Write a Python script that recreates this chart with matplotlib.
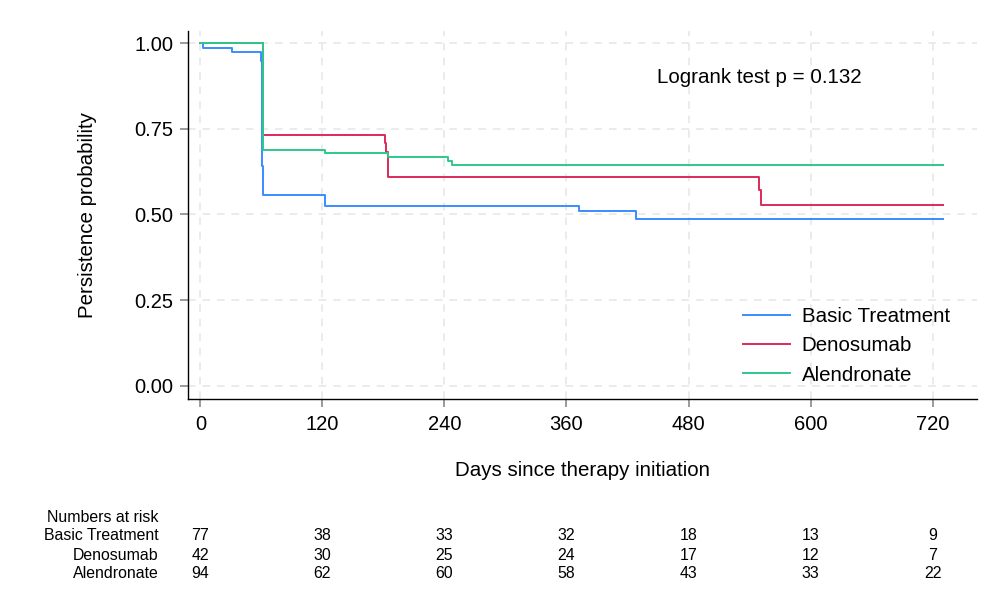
"""
Kaplan-Meier style persistence curves with a numbers-at-risk table.
"""

import matplotlib
matplotlib.use("Agg")
import matplotlib.pyplot as plt
import matplotlib.transforms as mtransforms

plt.rcParams["font.family"] = ["Liberation Sans", "DejaVu Sans"]

# --- data --------------------------------------------------------------
groups = ["Basic Treatment", "Denosumab", "Alendronate"]
colors = ["#3a8cff", "#dc2a5a", "#2ec88c"]

basic_t = [0, 3, 31, 60, 61, 62, 123, 372, 428, 730]
basic_s = [1.0, 0.987, 0.974, 0.948, 0.64, 0.556, 0.526, 0.509, 0.487, 0.487]

deno_t = [0, 62, 182, 183, 185, 549, 551, 730]
deno_s = [1.0, 0.732, 0.708, 0.682, 0.610, 0.570, 0.529, 0.529]

alen_t = [0, 62, 123, 185, 244, 247, 730]
alen_s = [1.0, 0.688, 0.678, 0.667, 0.655, 0.644, 0.644]

risk_days = [0, 120, 240, 360, 480, 600, 720]
risk_basic = [77, 38, 33, 32, 18, 13, 9]
risk_deno = [42, 30, 25, 24, 17, 12, 7]
risk_alen = [94, 62, 60, 58, 43, 33, 22]

xticks = [0, 120, 240, 360, 480, 600, 720]
yticks = [0.00, 0.25, 0.50, 0.75, 1.00]
logrank_text = "Logrank test p = 0.132"

W, H = 993, 601
fig = plt.figure(figsize=(W / 100, H / 100), dpi=100)
ax = fig.add_axes([187.7 / W, 1 - 399.3 / H, 789 / W, 368.6 / H])

# 格子線
for x in xticks:
    ax.axvline(x, color="#e6e6e6", lw=1.1, ls=(0, (5, 4.5)), zorder=0)
for y in yticks:
    ax.axhline(y, color="#e6e6e6", lw=1.1, ls=(0, (5, 4.5)), zorder=0)

series = [(basic_t, basic_s), (deno_t, deno_s), (alen_t, alen_s)]
for (t, s), name, c in zip(series, groups, colors):
    ax.step(t, s, where="post", color=c, lw=1.4, label=name)

ax.set_xlim(-12.4, 763.3)
ax.set_ylim(-0.039, 1.036)
ax.set_xticks(xticks)
ax.set_yticks(yticks)
ax.set_yticklabels([f"{v:.2f}" for v in yticks])
ax.tick_params(axis="both", length=5.8, width=1.1, color="#808080",
               labelsize=14.5, labelcolor="black")
ax.tick_params(axis="x", pad=5.5)
ax.tick_params(axis="y", pad=4.5)

for side in ["top", "right"]:
    ax.spines[side].set_visible(False)
for side in ["left", "bottom"]:
    ax.spines[side].set_color("black")
    ax.spines[side].set_linewidth(1.0)

ax.set_xlabel("Days since therapy initiation", fontsize=14.8)
ax.xaxis.set_label_coords(0.5, -(461 - 399.3) / 368.6)
ax.set_ylabel("Persistence probability", fontsize=14.8)
ax.yaxis.set_label_coords(-(187.7 - 97) / 789, 0.5)

ax.text(550, 0.9, logrank_text, ha="center", va="center", fontsize=14.8)

ax.legend(loc="upper left", bbox_to_anchor=(743 / W, 1 - 307 / H),
          bbox_transform=fig.transFigure, frameon=False, fontsize=14.8,
          handlelength=2.3, handletextpad=0.55, labelspacing=0.5,
          borderpad=0, borderaxespad=0)

# Numbers at risk の表
lab_x = 158.5 / W
fs_risk = 11.4
fig.text(lab_x, 1 - 517 / H, "Numbers at risk", ha="right", va="center", fontsize=fs_risk)
blend = mtransforms.blended_transform_factory(ax.transData, fig.transFigure)
rows = [risk_basic, risk_deno, risk_alen]
row_y = [536, 555, 574]
for name, vals, py in zip(groups, rows, row_y):
    fig.text(lab_x, 1 - py / H, name, ha="right", va="center", fontsize=fs_risk)
    for d, v in zip(risk_days, vals):
        ax.text(d, 1 - py / H, str(v), transform=blend, ha="center",
                va="center", fontsize=fs_risk, clip_on=False)

fig.savefig("out.png", dpi=100)
